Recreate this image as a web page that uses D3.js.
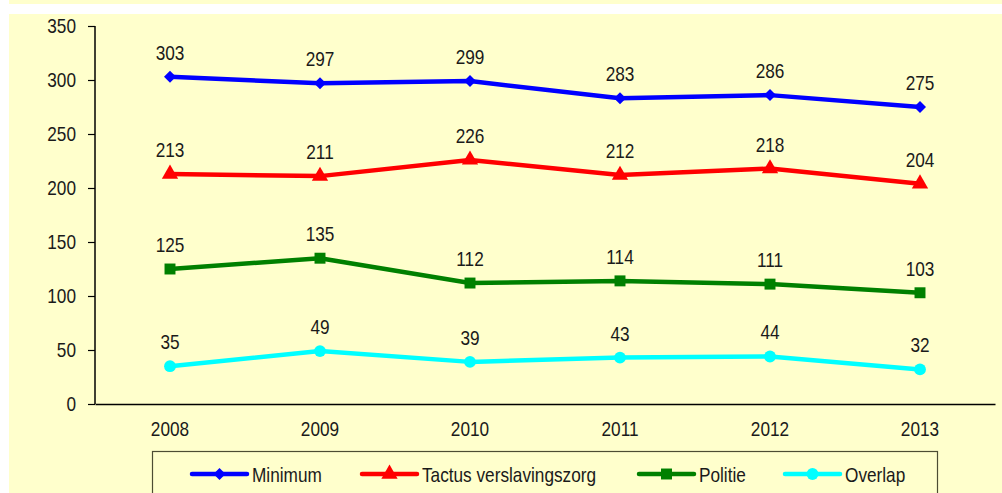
<!DOCTYPE html>
<html>
<head>
<meta charset="utf-8">
<script src="https://cdn.jsdelivr.net/npm/d3@7"></script>
<style>
  html, body { margin: 0; padding: 0; background: #fff; }
  svg { display: block; }
  text { font-family: "Liberation Sans", Arial, sans-serif; fill: #1a1a1a; }
</style>
</head>
<body>
<div id="chart"></div>
<script>
const years = ["2008", "2009", "2010", "2011", "2012", "2013"];
const minimum = [303, 297, 299, 283, 286, 275];
const tactus = [213, 211, 226, 212, 218, 204];
const politie = [125, 135, 112, 114, 111, 103];
const overlap = [35, 49, 39, 43, 44, 32];
const yTicks = [0, 50, 100, 150, 200, 250, 300, 350];

// rotate: square turned 45deg gives the Excel-style diamond
const series = [
  {name: "Minimum", values: minimum, color: "#0000ff", symbol: d3.symbolSquare, size: 72, rotate: 45},
  {name: "Tactus verslavingszorg", values: tactus, color: "#ff0000", symbol: d3.symbolTriangle, size: 115, rotate: 0},
  {name: "Politie", values: politie, color: "#008000", symbol: d3.symbolSquare, size: 120, rotate: 0},
  {name: "Overlap", values: overlap, color: "#00ffff", symbol: d3.symbolCircle, size: 110, rotate: 0}
];

const width = 1002, height = 493;
const margin = {left: 95, right: 7, top: 26, bottom: 89};
const fontSize = 21;
const squeeze = 0.82; // narrow face look

// squeeze text horizontally around its own x
function narrow(sel) {
  sel.each(function () {
    const t = d3.select(this);
    const xv = +t.attr("x") || 0;
    t.attr("x", xv / squeeze).attr("transform", `scale(${squeeze},1)`);
  });
}

const svg = d3.select("#chart").append("svg")
  .attr("width", width)
  .attr("height", height);

// background panels
svg.append("rect").attr("x", 9).attr("y", 0).attr("width", width - 9).attr("height", 4).attr("fill", "#ffffcc");
svg.append("rect").attr("x", 9).attr("y", 14).attr("width", width - 9).attr("height", height - 14).attr("fill", "#ffffcc");

const x = d3.scaleBand()
  .domain(years)
  .range([margin.left, width - margin.right]);

const y = d3.scaleLinear()
  .domain([0, 350])
  .range([height - margin.bottom, margin.top]);

// y axis
const yAxis = svg.append("g")
  .attr("transform", `translate(${margin.left},0)`)
  .call(d3.axisLeft(y).tickValues(yTicks).tickSize(7).tickPadding(12));
yAxis.select(".domain").attr("stroke", "#000").attr("stroke-width", 1.5).attr("d", `M0,${y(350)}V${y(0)}`);
yAxis.selectAll(".tick line").attr("stroke", "#000").attr("stroke-width", 1.2);
yAxis.selectAll(".tick text").attr("font-size", fontSize).attr("fill", "#1a1a1a")
  .attr("font-family", null).call(narrow);

// x axis
const xAxis = svg.append("g")
  .attr("transform", `translate(0,${y(0)})`)
  .call(d3.axisBottom(x).tickSize(0).tickPadding(17));
xAxis.select(".domain").attr("stroke", "#000").attr("stroke-width", 1.5);
xAxis.selectAll(".tick text").attr("font-size", fontSize).attr("fill", "#1a1a1a")
  .attr("font-family", null).call(narrow);

const cx = d => x(d) + x.bandwidth() / 2;

const line = d3.line()
  .x((d, i) => cx(years[i]))
  .y(d => y(d));

series.forEach(s => {
  const g = svg.append("g");
  g.append("path")
    .attr("d", line(s.values))
    .attr("fill", "none")
    .attr("stroke", s.color)
    .attr("stroke-width", 4.5)
    .attr("stroke-linejoin", "round");
  g.selectAll("path.marker")
    .data(s.values)
    .join("path")
    .attr("class", "marker")
    .attr("d", d3.symbol().type(s.symbol).size(s.size))
    .attr("transform", (d, i) => `translate(${cx(years[i])},${y(d)}) rotate(${s.rotate})`)
    .attr("fill", s.color);
  g.selectAll("text.label")
    .data(s.values)
    .join("text")
    .attr("class", "label")
    .attr("x", (d, i) => cx(years[i]))
    .attr("y", d => y(d) - 17)
    .attr("text-anchor", "middle")
    .attr("font-size", fontSize)
    .text(d => d)
    .call(narrow);
});

// legend
const legend = svg.append("g");
legend.append("rect")
  .attr("x", 152.5).attr("y", 451.5)
  .attr("width", 785).attr("height", 60)
  .attr("fill", "none")
  .attr("stroke", "#4d4d33")
  .attr("stroke-width", 1.2);

const legendX = [192, 362, 639, 785];
const legendY = 474;
series.forEach((s, i) => {
  const lg = legend.append("g").attr("transform", `translate(${legendX[i]},${legendY})`);
  lg.append("line")
    .attr("x1", 0).attr("x2", 55)
    .attr("stroke", s.color).attr("stroke-width", 4.5).attr("stroke-linecap", "round");
  lg.append("path")
    .attr("d", d3.symbol().type(s.symbol).size(s.size))
    .attr("transform", `translate(27.5,0) rotate(${s.rotate})`)
    .attr("fill", s.color);
  lg.append("text")
    .attr("x", 60).attr("y", 8)
    .attr("font-size", fontSize)
    .text(s.name)
    .call(narrow);
});
</script>
</body>
</html>
